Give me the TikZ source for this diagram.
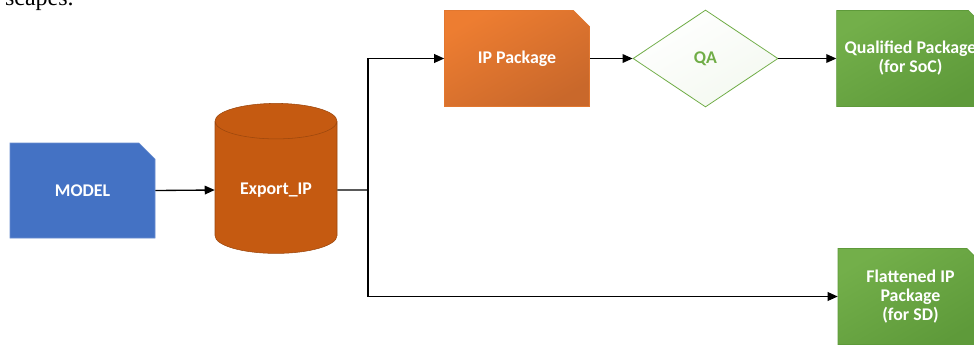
\documentclass[tikz,border=0pt]{standalone}
\usepackage{fontspec}
\setmainfont{Carlito}
\newfontfamily\docfont{Liberation Serif}
\usetikzlibrary{shapes.geometric, shapes.misc, arrows.meta, positioning}

\definecolor{modelblue}{HTML}{4472C4}
\definecolor{exportbrown}{HTML}{C55A11}
\definecolor{exportedge}{HTML}{9C470D}
\definecolor{iplight}{HTML}{ED7D31}
\definecolor{ipdark}{HTML}{C9682B}
\definecolor{qagreen}{HTML}{70AD47}
\definecolor{pkglight}{HTML}{73AF4A}
\definecolor{pkgdark}{HTML}{5E9A3A}

\begin{document}
\begin{tikzpicture}[
    x=0.75pt, y=-0.75pt,
    >={Triangle[length=7.5pt, width=6.5pt]},
    font=\fontsize{13.4}{14.25}\selectfont\bfseries,
    card/.style     ={chamfered rectangle, chamfered rectangle corners=north east,
                      chamfered rectangle xsep=6pt, chamfered rectangle ysep=6pt,
                      align=center, inner xsep=0pt, inner ysep=2pt, text=white,
                      minimum width=108.75pt, minimum height=72pt},
    modelbox/.style ={card, fill=modelblue, draw=modelblue!80!white, minimum height=71.25pt},
    ipbox/.style    ={card, draw=iplight!70!ipdark, line width=0.4pt,
                      top color=iplight, bottom color=ipdark, shading angle=30},
    pkgbox/.style   ={card, draw=pkgdark, line width=0.4pt,
                      top color=pkglight, bottom color=pkgdark, shading angle=30},
    store/.style    ={cylinder, shape border rotate=90, aspect=0.46,
                      draw=exportedge, fill=exportbrown, text=white,
                      minimum width=91.5pt, minimum height=112.5pt, inner sep=2pt},
    check/.style    ={diamond, draw=qagreen, line width=0.6pt, text=qagreen,
                      top color=white, bottom color=qagreen!8, shading angle=30,
                      minimum width=108.75pt, minimum height=72.75pt, inner sep=0pt},
    flow/.style     ={->, line width=1pt}
]
\useasboundingbox (0,0) rectangle (974,344);

% cut-off line of the surrounding page
\node[anchor=base east, inner sep=0pt, font=\docfont\fontsize{18}{20}\selectfont]
    (pagetext) at (74,5) {scapes.};

% =================== source and export ===================
\node[modelbox] (model) at (82.5,190.5) {MODEL};
\node[store]    (export) at (276,190)   {Export\_IP};

% =================== top branch: packaging and QA ===================
\node[ipbox]  (ippkg) at (517,58.5)   {IP Package};
\node[check]  (qa)    at (705.5,58.5) {QA};
\node[pkgbox] (qual)  at (910.5,58.5) {Qualified Package\\(for SoC)};

% =================== bottom branch ===================
\node[pkgbox] (flat)  at (910.5,296.5) {Flattened IP\\Package\\(for SD)};

\coordinate (split) at (368,190);

% --- Arrows ---
\draw[flow] (model.east) -- (export.west);
\draw[line width=1pt] (export.east) -- (split);
\draw[flow] (split) |- (ippkg.west);
\draw[flow] (split) |- (flat.west);
\draw[flow] (ippkg.east) -- (qa.west);
\draw[flow] (qa.east) -- (qual.west);

\end{tikzpicture}
\end{document}
